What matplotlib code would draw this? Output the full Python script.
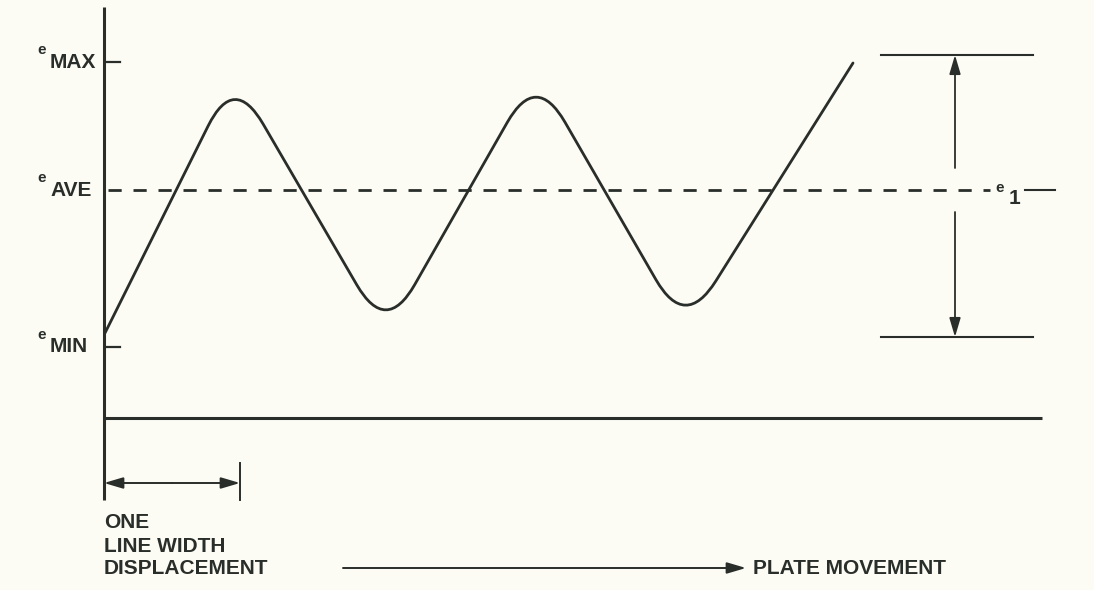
import numpy as np
import matplotlib.pyplot as plt
from matplotlib.path import Path
from matplotlib.patches import PathPatch

# diagram laid out in pixel units of the 1094x590 picture (y grows downward)
W, H = 1094, 590

# signal waveform: corner points of the flanks (corners get rounded when drawn)
wave_x = [105, 234, 386, 536, 685, 853]
wave_y = [333, 74, 335, 72, 330, 63]

# output levels on the left axis
level_names = ['MAX', 'AVE', 'MIN']
level_y = [62, 190, 347]

# e1 swing marker on the right
e1_top = 55
e1_bottom = 337
e1_x = 955
e1_left, e1_right = 881, 1033

# one line width displacement
disp_start, disp_end = 104, 240

axis_x = 104
axis_top, axis_bottom = 7, 500
base_y = 418
base_right = 1042

INK = '#2a2e2a'
BG = '#fcfcf5'
FONT = 'Liberation Sans'


def rounded_path(xs, ys, r):
    """Polyline through the points, with each inner corner rounded off."""
    verts = [(xs[0], ys[0])]
    codes = [Path.MOVETO]
    for i in range(1, len(xs) - 1):
        v = np.array([xs[i], ys[i]], float)
        p = np.array([xs[i - 1], ys[i - 1]], float)
        n = np.array([xs[i + 1], ys[i + 1]], float)
        a = v + (p - v) / np.linalg.norm(p - v) * r
        b = v + (n - v) / np.linalg.norm(n - v) * r
        verts += [tuple(a), tuple(v), tuple(b)]
        codes += [Path.LINETO, Path.CURVE3, Path.CURVE3]
    verts.append((xs[-1], ys[-1]))
    codes.append(Path.LINETO)
    return Path(verts, codes)


def arrow(ax, start, end, lw=1.3):
    ax.annotate('', xy=end, xytext=start,
                arrowprops=dict(arrowstyle='-|>,head_length=1.15,head_width=0.34',
                                lw=lw, color=INK, shrinkA=0, shrinkB=0,
                                mutation_scale=10))


plt.rcParams['lines.scale_dashes'] = False
fig = plt.figure(figsize=(W / 100, H / 100), dpi=100, facecolor=BG)
ax = fig.add_axes([0, 0, 1, 1])
ax.set_xlim(0, W)
ax.set_ylim(H, 0)
ax.axis('off')
ax.set_facecolor(BG)

# axes
ax.plot([axis_x, axis_x], [axis_top, axis_bottom], color=INK, lw=2.2, solid_capstyle='butt')
ax.plot([axis_x, base_right], [base_y, base_y], color=INK, lw=2.2, solid_capstyle='butt')

# level labels, ticks and the average line
for name, y in zip(level_names, level_y):
    ax.text(50, y, name, ha='left', va='center', fontsize=15,
            fontweight='bold', family=FONT, color=INK)
    ax.text(42, y - 12, 'e', ha='center', va='center', fontsize=11,
            fontweight='bold', family=FONT, color=INK)
    if name == 'AVE':
        ln, = ax.plot([axis_x + 4, 990], [y, y], color=INK, lw=2.0)
        ln.set_dashes((9.5, 8.5))
    else:
        ax.plot([axis_x + 3, axis_x + 16], [y, y], color=INK, lw=1.6)

# waveform
ax.add_patch(PathPatch(rounded_path(wave_x, wave_y, 58), fill=False,
                       edgecolor=INK, lw=2.0, capstyle='round'))

# e1 swing
ax.plot([e1_left, e1_right], [e1_top, e1_top], color=INK, lw=1.5)
ax.plot([e1_left, e1_right], [e1_bottom, e1_bottom], color=INK, lw=1.5)
ave = level_y[1]
arrow(ax, (e1_x, ave - 22), (e1_x, e1_top))
arrow(ax, (e1_x, ave + 22), (e1_x, e1_bottom))
ax.text(1000, ave - 2, 'e', ha='center', va='center', fontsize=11,
        fontweight='bold', family=FONT, color=INK)
ax.text(1014, ave + 9, '1', ha='center', va='center', fontsize=15,
        fontweight='bold', family=FONT, color=INK)
ax.plot([1025, 1055], [ave, ave], color=INK, lw=1.5)

# one line width displacement
ax.plot([disp_end, disp_end], [463, 500], color=INK, lw=1.4)
arrow(ax, ((disp_start + disp_end) / 2, 483), (disp_start, 483), lw=1.4)
arrow(ax, ((disp_start + disp_end) / 2, 483), (disp_end, 483), lw=1.4)
for txt, y in zip(['ONE', 'LINE WIDTH', 'DISPLACEMENT'], [522, 546, 569]):
    ax.text(disp_start, y, txt, ha='left', va='center', fontsize=15,
            fontweight='bold', family=FONT, color=INK)

# plate movement
arrow(ax, (343, 568), (746, 568), lw=1.4)
ax.text(753, 568, 'PLATE MOVEMENT', ha='left', va='center', fontsize=15,
        fontweight='bold', family=FONT, color=INK)

fig.savefig('out.png', dpi=100, facecolor=BG)
